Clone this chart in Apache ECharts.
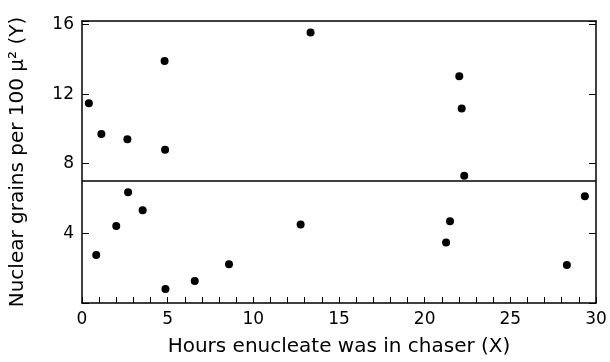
<!DOCTYPE html>
<html>
<head>
<meta charset="utf-8">
<script src="https://cdn.jsdelivr.net/npm/echarts@6/dist/echarts.min.js"></script>
<style>
  html, body { margin: 0; padding: 0; background: #fff; }
  #chart { width: 610px; height: 362px; }
</style>
</head>
<body>
<div id="chart"></div>
<script>
// hours enucleate was in chaser (X)
var hours = [0.4, 1.13, 2.65, 4.85, 2.69, 3.54, 2.0, 0.83, 4.87, 4.82, 6.58, 8.58,
             12.76, 13.34, 21.25, 21.48, 22.02, 22.16, 22.31, 28.3, 29.35];
// nuclear grains per 100 u^2 (Y)
var grains = [11.47, 9.71, 9.41, 8.8, 6.36, 5.33, 4.42, 2.76, 0.8, 13.9, 1.26, 2.23,
              4.51, 15.54, 3.47, 4.7, 13.03, 11.18, 7.31, 2.19, 6.13];
var meanGrains = 7;

var xTicks = [0, 5, 10, 15, 20, 25, 30];
var yTicks = [0, 4, 8, 12, 16];
var yTop = 16.2; // frame sits a little above the 16 tick

var points = hours.map(function (h, i) { return [h, grains[i]]; });

var chart = echarts.init(document.getElementById('chart'));
var font = 'DejaVu Sans';

function yLabel(v) {
  return (v > 0 && yTicks.indexOf(v) >= 0) ? String(v) : '';
}

var option = {
  animation: false,
  backgroundColor: '#fff',
  grid: { left: 78, right: 14, top: 21, bottom: 58 },
  xAxis: [
    {
      type: 'value',
      min: xTicks[0],
      max: xTicks[xTicks.length - 1],
      interval: 5,
      name: 'Hours enucleate was in chaser (X)',
      nameLocation: 'middle',
      nameGap: 34,
      nameTextStyle: { fontFamily: font, fontSize: 20, color: '#000' },
      axisLine: { lineStyle: { color: '#000', width: 1.5 } },
      axisTick: { inside: true, length: 6, lineStyle: { color: '#000' } },
      minorTick: { show: true, splitNumber: 5, length: 6, lineStyle: { color: '#000' } },
      axisLabel: { fontFamily: font, fontSize: 17, color: '#000', margin: 8 },
      splitLine: { show: false }
    },
    {
      type: 'value',
      position: 'top',
      min: 0, max: 30,
      axisLine: { show: true, onZero: false, lineStyle: { color: '#000', width: 1.5 } },
      axisTick: { show: false },
      axisLabel: { show: false },
      splitLine: { show: false }
    }
  ],
  yAxis: [
    {
      type: 'value',
      min: yTicks[0],
      max: yTop,
      interval: 4,
      name: 'Nuclear grains per 100 \u03bc\u00b2 (Y)',
      nameLocation: 'middle',
      nameGap: 54,
      nameTextStyle: { fontFamily: font, fontSize: 20, color: '#000' },
      axisLine: { show: true, lineStyle: { color: '#000', width: 1.5 } },
      axisTick: { inside: true, length: 7, lineStyle: { color: '#000' } },
      axisLabel: { fontFamily: font, fontSize: 17, color: '#000', margin: 8, formatter: yLabel },
      splitLine: { show: false }
    },
    {
      type: 'value',
      position: 'right',
      min: 0, max: yTop, interval: 4,
      axisLine: { show: true, onZero: false, lineStyle: { color: '#000', width: 1.5 } },
      axisTick: { inside: true, length: 7, lineStyle: { color: '#000' } },
      axisLabel: { show: false },
      splitLine: { show: false }
    }
  ],
  series: [
    {
      type: 'scatter',
      data: points,
      symbol: 'circle',
      symbolSize: 8,
      itemStyle: { color: '#000', opacity: 1 },
      markLine: {
        silent: true,
        symbol: 'none',
        label: { show: false },
        lineStyle: { color: '#000', width: 1.5, type: 'solid' },
        data: [{ yAxis: meanGrains }]
      }
    }
  ]
};

chart.setOption(option);
</script>
</body>
</html>
